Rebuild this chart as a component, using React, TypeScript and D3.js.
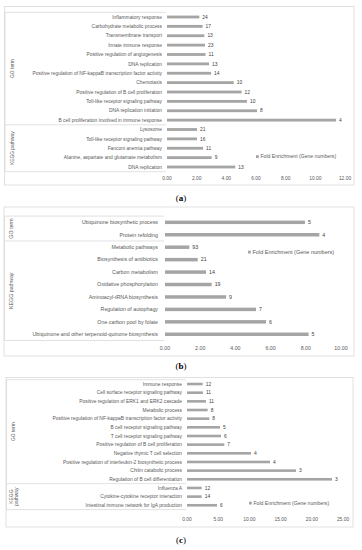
import React from 'react';
import * as d3 from 'd3';

// panel (a)
const termsA = [
  'Inflammatory response',
  'Carbohydrate metabolic process',
  'Transmembrane transport',
  'Innate immune response',
  'Positive regulation of angiogenesis',
  'DNA replication',
  'Positive regulation of NF-kappaB transcription factor activity',
  'Chemotaxis',
  'Positive regulation of B cell proliferation',
  'Toll-like receptor signaling pathway',
  'DNA replication initiation',
  'B cell proliferation involved in immune response',
  'Lysosome',
  'Toll-like receptor signaling pathway',
  'Fanconi anemia pathway',
  'Alanine, aspartate and glutamate metabolism',
  'DNA replication',
];
const foldA = [2.18, 2.4, 2.52, 2.56, 2.6, 2.83, 2.97, 4.5, 5.03, 5.39, 6.07, 11.4, 2.02, 2.02, 2.43, 3.01, 4.6];
const genesA = [24, 17, 13, 23, 11, 13, 14, 10, 12, 10, 8, 4, 21, 16, 11, 9, 13];
const groupsA = [['GO term'], ['KEGG pathway']];
const groupSizesA = [12, 5];
const ticksA = [0, 2, 4, 6, 8, 10, 12];

// panel (b)
const termsB = [
  'Ubiquinone biosynthetic process',
  'Protein refolding',
  'Metabolic pathways',
  'Biosynthesis of antibiotics',
  'Carbon metabolism',
  'Oxidative phosphorylation',
  'Aminoacyl-tRNA biosynthesis',
  'Regulation of autophagy',
  'One carbon pool by folate',
  'Ubiquinone and other terpenoid-quinone biosynthesis',
];
const foldB = [7.95, 8.77, 1.38, 1.86, 2.33, 2.65, 3.47, 5.17, 5.74, 8.16];
const genesB = [5, 4, 93, 21, 14, 19, 9, 7, 6, 5];
const groupsB = [['GO term'], ['KEGG pathway']];
const groupSizesB = [2, 8];
const ticksB = [0, 2, 4, 6, 8, 10];

// panel (c)
const termsC = [
  'Immune response',
  'Cell surface receptor signaling pathway',
  'Positive regulation of ERK1 and ERK2 cascade',
  'Metabolic process',
  'Positive regulation of NF-kappaB transcription factor activity',
  'B cell receptor signaling pathway',
  'T cell receptor signaling pathway',
  'Positive regulation of B cell proliferation',
  'Negative thymic T cell selection',
  'Positive regulation of interleukin-2 biosynthetic process',
  'Chitin catabolic process',
  'Regulation of B cell differentiation',
  'Influenza A',
  'Cytokine-cytokine receptor interaction',
  'Intestinal immune network for IgA production',
];
const foldC = [2.51, 2.56, 3.04, 3.31, 3.58, 5.29, 5.45, 5.98, 10.26, 13.3, 17.47, 23.24, 2.35, 2.35, 4.81];
const genesC = [12, 11, 11, 8, 8, 5, 6, 7, 4, 4, 3, 3, 12, 14, 6];
const groupsC = [['GO term'], ['KEGG', 'pathway']];
const groupSizesC = [12, 3];
const ticksC = [0, 5, 10, 15, 20, 25];

const legendLabel = 'Fold Enrichment (Gene numbers)';
const captions = ['a', 'b', 'c'];

const FONT = 'Liberation Sans, Arial, sans-serif';
const BAR = '#a5a5a5';
const TEXT = '#595959';
const LINE = '#d9d9d9';

type PanelProps = {
  terms: string[];
  fold: number[];
  genes: number[];
  groups: string[][];
  groupSizes: number[];
  ticks: number[];
  caption: string;
  box: { x: number; y: number; w: number; h: number };
  plot: { top: number; bottom: number; x0: number; x1: number };
  labelRight: number;
  fontSize: number;
  barFrac: number;
  tickY: number;
  legend: { x: number; y: number };
  captionY: number;
};

const Panel = (p: PanelProps) => {
  const x = d3.scaleLinear()
    .domain([p.ticks[0], p.ticks[p.ticks.length - 1]])
    .range([p.plot.x0, p.plot.x1]);
  const y = d3.scaleBand()
    .domain(p.terms.map((_, i) => String(i)))
    .range([p.plot.top, p.plot.bottom])
    .paddingInner(1 - p.barFrac)
    .paddingOuter((1 - p.barFrac) / 2);
  const step = y.step();
  const fmt = d3.format('.2f');
  const left = p.box.x + 0.5;

  // group boundaries
  const bounds = [0];
  p.groupSizes.forEach(s => bounds.push(bounds[bounds.length - 1] + s));
  const yb = (i: number) => p.plot.top + i * step;

  return (
    <g>
      <rect x={p.box.x} y={p.box.y} width={p.box.w} height={p.box.h}
        fill="#fff" stroke={LINE} strokeWidth={0.8} />

      {/* category axis frame */}
      {bounds.map((b, i) => (
        <line key={'hb' + i} x1={left} x2={p.plot.x0 - 1} y1={yb(b)} y2={yb(b)}
          stroke={LINE} strokeWidth={0.8} />
      ))}
      <line x1={left} x2={left} y1={p.plot.top} y2={p.plot.bottom} stroke={LINE} strokeWidth={0.8} />

      {p.groups.map((lines, gi) => {
        const cy = (yb(bounds[gi]) + yb(bounds[gi + 1])) / 2;
        const gx = left + 7;
        return (
          <text key={'g' + gi} transform={`translate(${gx},${cy}) rotate(-90)`}
            textAnchor="middle" fontSize={p.fontSize} fill={TEXT} fontFamily={FONT}>
            {lines.map((l, li) => (
              <tspan key={li} x={0} dy={li === 0 ? (lines.length > 1 ? -1 : 1.6) : p.fontSize * 1.1}>{l}</tspan>
            ))}
          </text>
        );
      })}

      {p.terms.map((t, i) => {
        const yy = y(String(i))!;
        const cy = yy + y.bandwidth() / 2;
        return (
          <g key={i}>
            <text x={p.labelRight} y={cy + p.fontSize * 0.35} textAnchor="end"
              fontSize={p.fontSize} fill={TEXT} fontFamily={FONT}>{t}</text>
            <rect x={x(0)} y={yy} width={x(p.fold[i]) - x(0)} height={y.bandwidth()} fill={BAR} />
            <text x={x(p.fold[i]) + 3} y={cy + p.fontSize * 0.35}
              fontSize={p.fontSize} fill="#404040" fontFamily={FONT}>{p.genes[i]}</text>
          </g>
        );
      })}

      {p.ticks.map(t => (
        <text key={'t' + t} x={x(t)} y={p.tickY} textAnchor="middle"
          fontSize={p.fontSize} fill={TEXT} fontFamily={FONT}>{fmt(t)}</text>
      ))}

      <rect x={p.legend.x} y={p.legend.y - 2.8} width={2.8} height={2.8} fill={BAR} />
      <text x={p.legend.x + 4.5} y={p.legend.y} fontSize={p.fontSize + 0.2} fill={TEXT} fontFamily={FONT}>
        {legendLabel}
      </text>

      <text x={181} y={p.captionY} textAnchor="middle" fontSize={9}
        fontFamily="Liberation Serif, Times New Roman, serif" fill="#000">
        (<tspan fontWeight="bold">{p.caption}</tspan>)
      </text>
    </g>
  );
};

const App = () => {
  return (
    <svg width={362} height={550} style={{ position: 'absolute', left: 0, top: 0, background: '#fff' }}>
      <Panel terms={termsA} fold={foldA} genes={genesA} groups={groupsA} groupSizes={groupSizesA}
        ticks={ticksA} caption={captions[0]}
        box={{ x: 4.5, y: 6.5, w: 349.5, h: 178.5 }}
        plot={{ top: 12.3, bottom: 171.7, x0: 167, x1: 345 }}
        labelRight={162} fontSize={4.9} barFrac={0.3} tickY={180}
        legend={{ x: 256, y: 158 }} captionY={201} />
      <Panel terms={termsB} fold={foldB} genes={genesB} groups={groupsB} groupSizes={groupSizesB}
        ticks={ticksB} caption={captions[1]}
        box={{ x: 4, y: 207, w: 350, h: 149 }}
        plot={{ top: 216.1, bottom: 340.5, x0: 165, x1: 341 }}
        labelRight={158} fontSize={5.3} barFrac={0.28} tickY={350}
        legend={{ x: 248, y: 253.5 }} captionY={369} />
      <Panel terms={termsC} fold={foldC} genes={genesC} groups={groupsC} groupSizes={groupSizesC}
        ticks={ticksC} caption={captions[2]}
        box={{ x: 6, y: 377.5, w: 347, h: 149.5 }}
        plot={{ top: 379.7, bottom: 509.6, x0: 187, x1: 343 }}
        labelRight={182} fontSize={4.9} barFrac={0.3} tickY={521}
        legend={{ x: 249, y: 504.5 }} captionY={543} />
    </svg>
  );
};

export default App;
